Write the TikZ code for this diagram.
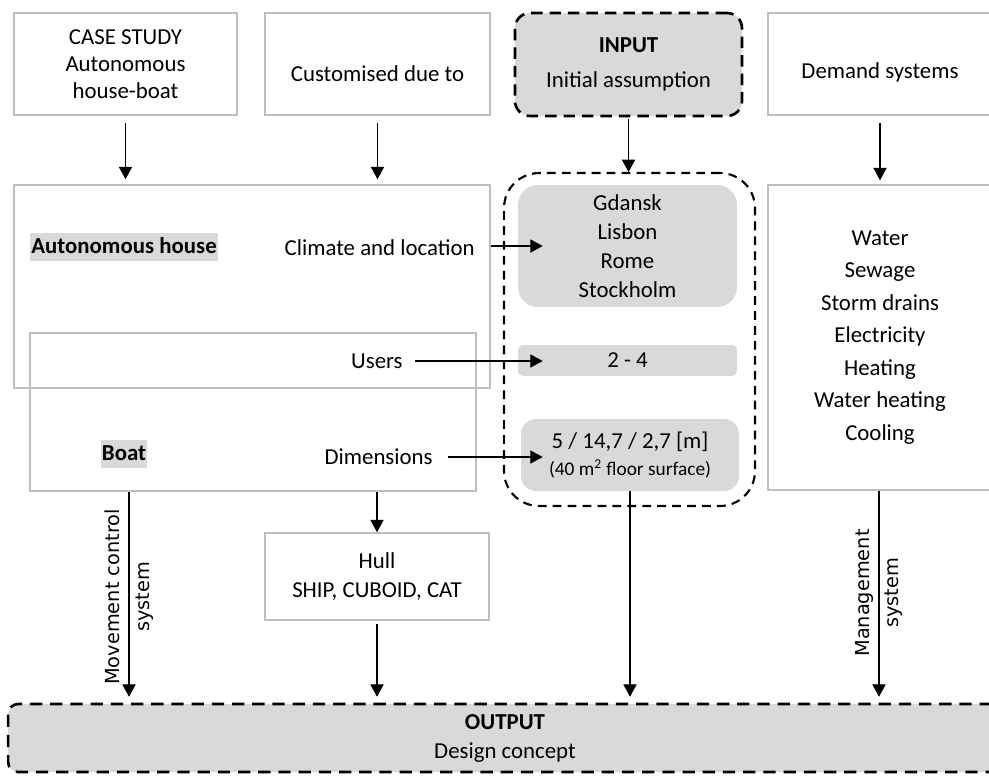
\documentclass[tikz,border=0pt]{standalone}
\usepackage{fontspec}
\setmainfont{Carlito}
\newfontfamily\sidefont{DejaVu Sans}
\usetikzlibrary{arrows.meta}
\definecolor{edgegray}{HTML}{BFBFBF}
\definecolor{fillgray}{HTML}{D9D9D9}

\begin{document}
\begin{tikzpicture}[x=0.02cm,y=-0.02cm]
\tikzset{every node/.style={font=\fontsize{13}{15.5}\selectfont,align=center}}
\tikzset{plainbox/.style={draw=edgegray,line width=0.9pt,inner sep=0pt}}
\tikzset{greybox/.style={fill=fillgray,inner sep=0pt}}
\tikzset{hilite/.style={fill=fillgray,inner xsep=0.5pt,inner ysep=1.5pt,text height=10pt,text depth=3pt}}
\tikzset{dashbox/.style={draw=black,fill=fillgray,line width=1.5pt,dash pattern=on 6.5pt off 4pt,rounded corners=0.3cm,inner sep=0pt}}
\tikzset{arr/.style={-{Triangle[length=7pt,width=7.5pt]},line width=0.6pt}}
\tikzset{sidelabel/.style={font=\sidefont\fontsize{11}{17}\selectfont,rotate=90}}
\clip (0,0) rectangle (989,775);

% top row
\node[plainbox,minimum width=4.46cm,minimum height=2.04cm] (case) at (125.5,64) {CASE STUDY\\Autonomous\\house-boat};
\node[plainbox,minimum width=4.5cm,minimum height=2.04cm,text height=20pt,text depth=0pt] (custom) at (377.5,64) {Customised due to};
\node[dashbox,minimum width=4.54cm,minimum height=2.06cm] (input) at (628.5,64.5) {\textbf{INPUT}\\[4pt]Initial assumption};
\node[plainbox,minimum width=4.48cm,minimum height=2.04cm,text height=16pt,text depth=0pt] (demand) at (880,64) {Demand systems};

% house and boat
\node[plainbox,minimum width=9.52cm,minimum height=4.06cm] (house) at (252,286.5) {};
\node[plainbox,minimum width=8.92cm,minimum height=3.16cm] (boat) at (253,412) {};
\node[hilite] (houselab) at (124,247) {\textbf{Autonomous house}};
\node[hilite] (boatlab) at (124,454) {\textbf{Boat}};
\node[anchor=east,inner xsep=0pt] (clim) at (475,248) {Climate and location};
\node[anchor=east,inner xsep=0pt] (users) at (403,361) {Users};
\node[anchor=east,inner xsep=0pt] (dimen) at (433,457) {Dimensions};

% assumptions
\node[draw,line width=1.2pt,dash pattern=on 5pt off 3.5pt,rounded corners=0.7cm,minimum width=5.02cm,minimum height=6.66cm] (assume) at (629.5,339.5) {};
\node[greybox,rounded corners=0.4cm,minimum width=4.38cm,minimum height=2.44cm] (cities) at (627.5,246) {Gdansk\\[1pt]Lisbon\\[1pt]Rome\\[1pt]Stockholm};
\node[greybox,rounded corners=0.1cm,minimum width=4.38cm,minimum height=0.62cm] (range) at (627.5,360.5) {2 - 4};
\node[greybox,rounded corners=0.3cm,minimum width=4.36cm,minimum height=1.44cm] (size) at (630,455) {5 / 14,7 / 2,7 [m]\\{\fontsize{11}{13}\selectfont (40 m\textsuperscript{2} floor surface)}};

\node[plainbox,minimum width=4.48cm,minimum height=6.1cm] (needs) at (880,337.5) {Water\\[3pt]Sewage\\[3pt]Storm drains\\[3pt]Electricity\\[3pt]Heating\\[3pt]Water heating\\[3pt]Cooling};

% bottom
\node[plainbox,minimum width=4.48cm,minimum height=1.74cm] (hull) at (377,576.5) {Hull\\[1pt]SHIP, CUBOID, CAT};
\node[dashbox,rounded corners=0.2cm,dash pattern=on 7pt off 4.5pt,minimum width=19.88cm,minimum height=1.36cm] (output) at (505,738) {\textbf{OUTPUT}\\[1pt]Design concept};
\node[sidelabel] (move) at (129,597) {Movement control\\system};
\node[sidelabel] (manage) at (879,593) {Management\\system};

\draw[arr] ([yshift=-0.14cm]case.south) -- ([yshift=0.1cm]case.south |- house.north);
\draw[arr] ([yshift=-0.14cm]custom.south) -- ([yshift=0.1cm]custom.south |- house.north);
\draw[arr] ([yshift=-0.04cm]input.south) -- (input.south |- assume.north);
\draw[arr] ([yshift=-0.14cm]demand.south) -- ([yshift=0.08cm]demand.south |- needs.north);
\draw[arr] (house.east |- cities.west) -- ([xshift=0.5cm]cities.west);
\draw[arr] ([xshift=0.24cm]users.east) -- ([xshift=0.5cm]range.west |- users.east);
\draw[arr] ([xshift=0.3cm]dimen.east) -- ([xshift=0.44cm]size.west |- dimen.east);
\draw[arr] (boat.south -| move) -- ([yshift=0.12cm]output.north -| move);
\draw[arr] (boat.south -| hull) -- (hull.north);
\draw[arr] ([yshift=-0.06cm]hull.south) -- ([yshift=0.12cm]output.north -| hull);
\draw[arr] (size.south) -- ([yshift=0.12cm]output.north -| size.south);
\draw[arr] (needs.south -| manage) -- ([yshift=0.12cm]output.north -| manage);
\end{tikzpicture}
\end{document}
